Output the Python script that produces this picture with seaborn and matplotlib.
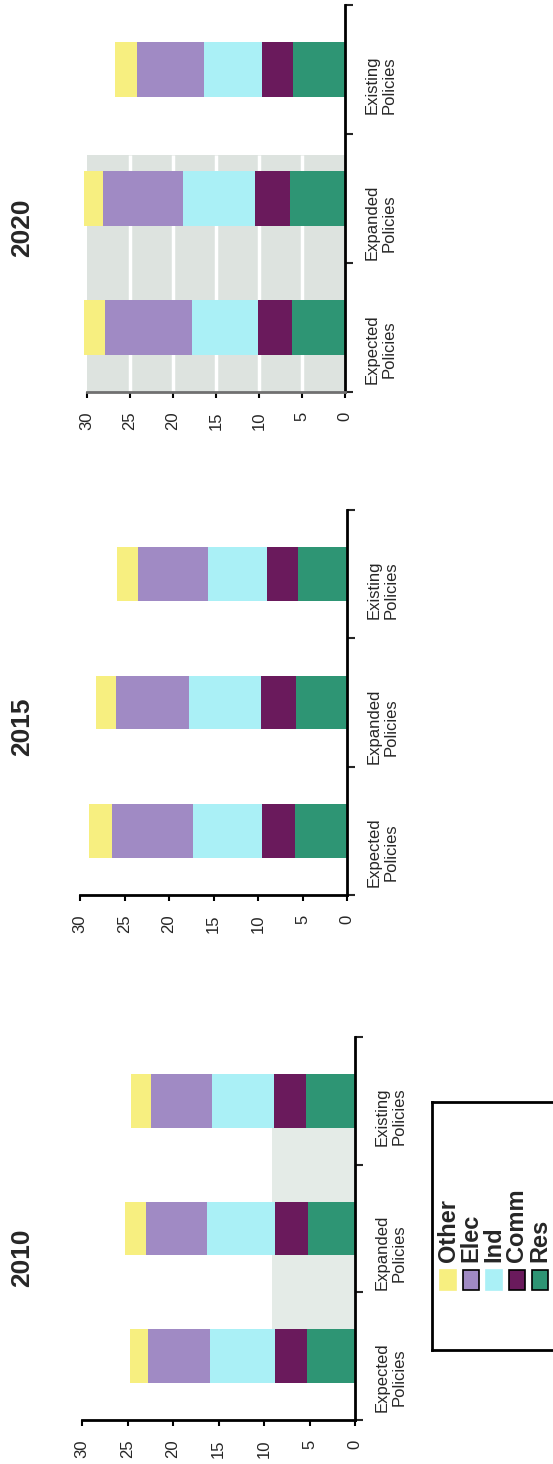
import numpy as np
import pandas as pd
import matplotlib
matplotlib.use("Agg")
import matplotlib.pyplot as plt
import seaborn as sns
from matplotlib.patches import Rectangle

sns.set_style("ticks")
plt.rcParams["font.family"] = ["Liberation Sans", "DejaVu Sans"]

# ---------------- data ----------------
years = ["2010", "2015", "2020"]
scenarios = ["Expected\nPolicies", "Expanded\nPolicies", "Existing\nPolicies"]
sectors = ["Res", "Comm", "Ind", "Elec", "Other"]
legend_order = ["Other", "Elec", "Ind", "Comm", "Res"]
colors = {"Res": "#2e9574", "Comm": "#6a1a5c", "Ind": "#aaf0f6",
          "Elec": "#a08ac4", "Other": "#f7ef80"}

# values per (year, scenario): 2010 Exp/Expd/Exst, 2015 ..., 2020 ...
res   = [5.3, 5.2, 5.4,  5.8, 5.7, 5.5,  6.2, 6.4, 6.0]
comm  = [3.5, 3.6, 3.5,  3.8, 4.0, 3.5,  3.9, 4.1, 3.7]
ind   = [7.1, 7.5, 6.8,  7.7, 8.1, 6.6,  7.7, 8.3, 6.7]
elec  = [6.8, 6.7, 6.7,  9.1, 8.2, 7.9, 10.1, 9.3, 7.8]
other = [2.0, 2.3, 2.2,  2.6, 2.2, 2.3,  2.5, 2.3, 2.5]
value_ticks = [0, 5, 10, 15, 20, 25, 30]

series = {"Res": res, "Comm": comm, "Ind": ind, "Elec": elec, "Other": other}
rows = []
for yi, yr in enumerate(years):
    for si, sc in enumerate(scenarios):
        i = yi * 3 + si
        row = {"year": yr, "scenario": sc}
        cum = 0.0
        for s in sectors:
            cum += series[s][i]
            row["cum_" + s] = cum
        rows.append(row)
df = pd.DataFrame(rows)

# ---------------- layout ----------------
W, H = 553, 1464
fig = plt.figure(figsize=(W / 100, H / 100), dpi=100)
fig.patch.set_facecolor("white")

# (x at 30, x at 0, y top, y bottom) in pixels
panel_px = {"2020": (87, 345, 5, 392),
            "2015": (80, 347, 510, 895),
            "2010": (82, 355, 1037, 1420)}
title_y = {"2020": 228, "2015": 727, "2010": 1258}
order = scenarios[::-1]  # Existing at top, Expected at bottom

for yr in years:
    x30, x0, yt, yb = panel_px[yr]
    ax = fig.add_axes([x30 / W, 1 - yb / H, (x0 - x30) / W, (yb - yt) / H])
    ax.set_facecolor("white")
    sub = df[df["year"] == yr]

    # scanned grey plot-area background
    if yr == "2020":
        ax.axhspan(0.66, 2.5, color="#dde3df", zorder=0, lw=0)
        ax.vlines([5, 10, 15, 20, 25], 0.66, 2.5, color="white", lw=2.5, zorder=0.5)
    if yr == "2010":
        ax.axhspan(0.13, 1.8, xmin=1 - 9.1 / 30, xmax=1.0, color="#e4ebe7", zorder=0, lw=0)

    for s in sectors[::-1]:
        sns.barplot(data=sub, x="cum_" + s, y="scenario", order=order,
                    color=colors[s], width=0.42, saturation=1, errorbar=None,
                    orient="h", linewidth=0, ax=ax)
    for p in ax.patches:
        p.set_clip_on(False)

    ax.set_xlim(30, 0)
    ax.set_ylim(2.5, -0.5)
    ax.set_xlabel("")
    ax.set_ylabel("")

    ax.set_xticks(value_ticks)
    ax.set_xticklabels([str(v) for v in value_ticks], rotation=90)
    ax.tick_params(axis="x", direction="out", length=4, width=1.5,
                   pad=10, labelsize=12, color="black")

    ax.yaxis.tick_right()
    ax.set_yticks([0, 1, 2])
    ax.set_yticklabels(order, rotation=90, multialignment="center")
    ax.tick_params(axis="y", which="major", direction="in", length=4,
                   width=1.5, pad=14, labelsize=12, right=True, left=False)
    ax.set_yticks([-0.5, 0.5, 1.5, 2.5], minor=True)
    ax.tick_params(axis="y", which="minor", direction="out", length=6,
                   width=1.5, right=True, left=False)

    for side in ["top", "left"]:
        ax.spines[side].set_visible(False)
    for side in ["bottom", "right"]:
        ax.spines[side].set_linewidth(2)
        ax.spines[side].set_color("black")
    if yr == "2020":
        ax.spines["bottom"].set_color("#707070")
    ax.grid(False)

    fig.text(22 / W, 1 - title_y[yr] / H, yr, rotation=90, ha="center",
             va="center", fontsize=19, fontweight="bold")

# ---------------- legend (rotated, drawn in its own axes) ----------------
lx0, ly0, ly1 = 432, 1102, 1350
lw_px = 128
lax = fig.add_axes([lx0 / W, 1 - ly1 / H, lw_px / W, (ly1 - ly0) / H])
lax.set_xlim(0, 1)
lax.set_ylim(0, 1)
lax.set_xticks([])
lax.set_yticks([])
lax.set_facecolor("none")
for side in lax.spines:
    lax.spines[side].set_linewidth(2)
    lax.spines[side].set_color("black")

entry_x = [448, 471, 494, 517, 540]
for name, xc in zip(legend_order, entry_x):
    fx = (xc - lx0) / lw_px
    sw = 16 / lw_px
    edge = "black" if name in ("Elec", "Comm", "Res") else colors[name]
    lax.add_patch(Rectangle((fx - sw / 2, (ly1 - 1290) / (ly1 - ly0)), sw,
                            20 / (ly1 - ly0), facecolor=colors[name],
                            edgecolor=edge, lw=1.2, clip_on=False))
    lax.text(fx, (ly1 - 1262) / (ly1 - ly0), name, rotation=90,
             ha="center", va="bottom", fontsize=17, fontweight="bold")

fig.savefig("out.png", dpi=100, facecolor="white")
